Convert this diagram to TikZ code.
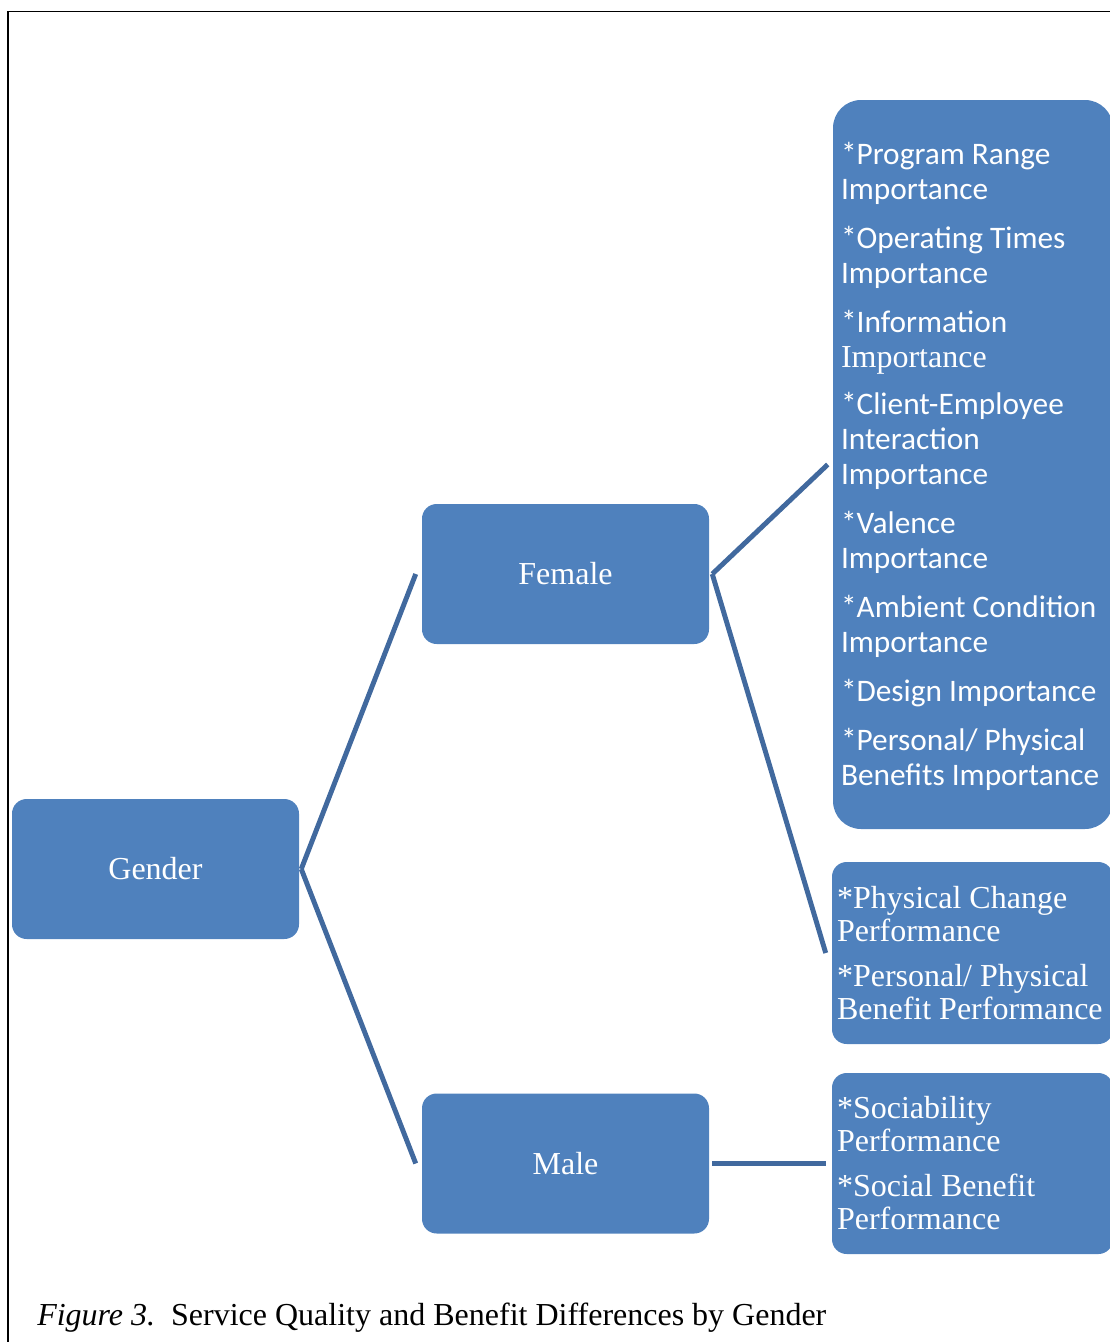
\documentclass[tikz,border=0pt]{standalone}
\usepackage{fontspec}
\setmainfont{Liberation Serif}
\newfontfamily\calib{Carlito}

\definecolor{boxblue}{HTML}{4F81BD}
\definecolor{linkblue}{HTML}{41699E}

\begin{document}
\begin{tikzpicture}[x=0.75pt,y=-0.75pt,
  box/.style={draw=none, fill=boxblue, rounded corners=11pt, text=white, inner sep=0pt},
  catbox/.style={box, minimum width=215.25pt, minimum height=105pt,
    font=\fontsize{24}{28}\selectfont},
  listtext/.style={text=white, inner sep=0pt, align=left, anchor=west},
  sanslist/.style={listtext, font=\calib\fontsize{23.5}{26.25}\selectfont},
  seriflist/.style={listtext, font=\fontsize{24}{24.75}\selectfont},
  link/.style={draw=linkblue, line width=3.7pt},
  frame/.style={draw=black, line width=1.1pt}]

% page area
\useasboundingbox (0,0) rectangle (1110,1342);
\clip (0,0) rectangle (1110,1342);

% outer frame (left and top edges)
\draw[frame] (8,1360) -- (8,11.5) -- (1130,11.5);

% category boxes
\node[catbox] (gender) at (155.5,869)  {Gender};
\node[catbox] (female) at (565.5,574)  {Female};
\node[catbox] (male)   at (565.5,1163.5) {Male};

% result boxes
\node[box, rounded corners=21pt, minimum width=210pt, minimum height=546.75pt]
  (fimp) at (973,464.5) {};
\node[box, minimum width=210.75pt, minimum height=136.5pt]
  (fperf) at (972.5,953) {};
\node[box, minimum width=210.75pt, minimum height=135.75pt]
  (mperf) at (972.5,1163.5) {};

% result texts
\node[sanslist] (fimptext) at ([xshift=6pt,yshift=-1.5pt]fimp.west)
  {*Program Range\\ Importance\\[10.5pt]
   *Operating Times\\ Importance\\[10.5pt]
   *Information\\ {\rmfamily\fontsize{24}{26.25}\selectfont Importance}\\[9pt]
   *Client-Employee\\ Interaction\\ Importance\\[10.5pt]
   *Valence\\ Importance\\[10.5pt]
   *Ambient Condition\\ Importance\\[10.5pt]
   *Design Importance\\[10.5pt]
   *Personal/ Physical\\ Benefits Importance};
\node[seriflist] (fperftext) at ([xshift=3.75pt]fperf.west)
  {*Physical Change\\ Performance\\[9pt]
   *Personal/ Physical\\ Benefit Performance};
\node[seriflist] (mperftext) at ([xshift=3.75pt]mperf.west)
  {*Sociability\\ Performance\\[9pt]
   *Social Benefit\\ Performance};

% connectors
\draw[link] ([xshift=1.5pt]gender.east) -- ([xshift=-4.5pt]female.west);
\draw[link] ([xshift=1.5pt]gender.east) -- ([xshift=-4.5pt]male.west);
\draw[link] ([xshift=2.25pt]female.east) -- ([xshift=-3.75pt]fimp.west);
\draw[link] ([xshift=2.25pt]female.east) -- ([xshift=-4.5pt]fperf.west);
\draw[link] ([xshift=2.25pt]male.east) -- ([xshift=-4.5pt]mperf.west);

% caption
\node[anchor=base west, inner sep=0pt, font=\fontsize{24}{28}\selectfont] (caption)
  at (37,1325) {\textit{Figure 3.}\ \ Service Quality and Benefit Differences by Gender};
\end{tikzpicture}
\end{document}
